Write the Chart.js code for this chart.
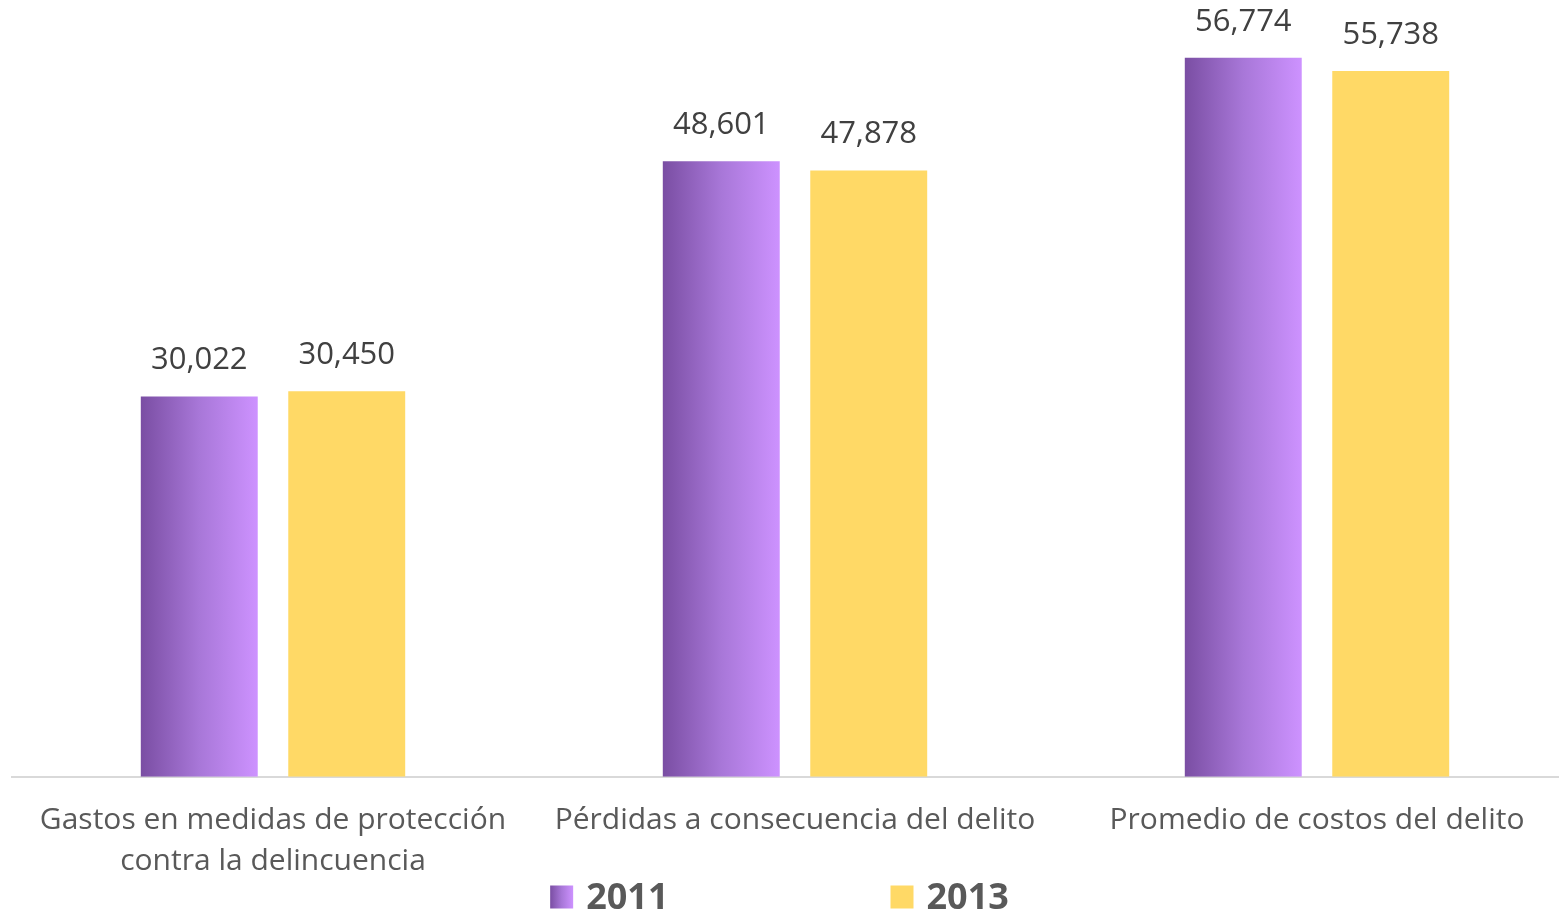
<!DOCTYPE html>
<html>
<head>
<meta charset="utf-8">
<script src="https://cdn.jsdelivr.net/npm/chart.js@4"></script>
<style>
  html, body { margin: 0; padding: 0; background: #fff; overflow: hidden; }
  #wrap { width: 1578px; height: 914px; }
</style>
</head>
<body>
<div id="wrap"><canvas id="chart"></canvas></div>
<script>
// categorías y valores
const categories = [
  ["Gastos en medidas de protección", "contra la delincuencia"],
  "Pérdidas a consecuencia del delito",
  "Promedio de costos del delito"
];
const seriesLabels = ["2011", "2013"];
const values2011 = [30022, 48601, 56774];
const values2013 = [30450, 47878, 55738];

const FONT = "'Open Sans', 'Liberation Sans', sans-serif";
const TEXT = "#595959";

// degradado horizontal de cada barra 2011
function purpleGradient(ctx, x0, x1) {
  const g = ctx.createLinearGradient(x0, 0, x1, 0);
  g.addColorStop(0, "#7a4ea3");
  g.addColorStop(0.5, "#a877d8");
  g.addColorStop(1, "#cd92ff");
  return g;
}

const gradientBars = {
  id: "gradientBars",
  beforeDatasetDraw(chart, args) {
    if (args.index !== 0) return;
    const ctx = chart.ctx;
    args.meta.data.forEach(el => {
      el.options.backgroundColor = purpleGradient(ctx, el.x - el.width / 2, el.x + el.width / 2);
    });
  }
};

// etiquetas de valor encima de cada barra
const valueLabels = {
  id: "valueLabels",
  afterDatasetsDraw(chart) {
    const ctx = chart.ctx;
    ctx.save();
    ctx.font = "31px " + FONT;
    ctx.fillStyle = "#404040";
    ctx.textAlign = "center";
    ctx.textBaseline = "middle";
    chart.data.datasets.forEach((ds, i) => {
      chart.getDatasetMeta(i).data.forEach((el, j) => {
        ctx.fillText(ds.data[j].toLocaleString("en-US"), el.x, el.y - 36);
      });
    });
    ctx.restore();
  }
};

// leyenda inferior (centrada en la ventana visible)
const bottomLegend = {
  id: "bottomLegend",
  afterDraw(chart) {
    const ctx = chart.ctx;
    const box = 23, gapText = 13, gapItems = 222, cy = 898, cx = 779.5;
    ctx.save();
    ctx.font = "bold 36px " + FONT;
    ctx.textBaseline = "middle";
    const widths = chart.data.datasets.map(ds => box + gapText + ctx.measureText(ds.label).width);
    const total = widths.reduce((a, b) => a + b, 0) + gapItems * (widths.length - 1);
    let x = cx - total / 2;
    chart.data.datasets.forEach((ds, i) => {
      ctx.fillStyle = i === 0 ? purpleGradient(ctx, x, x + box) : ds.backgroundColor;
      ctx.fillRect(x, cy - box / 2 - 1, box, box);
      ctx.fillStyle = TEXT;
      ctx.fillText(ds.label, x + box + gapText, cy + 1);
      x += widths[i] + gapItems;
    });
    ctx.restore();
  }
};

new Chart(document.getElementById("chart"), {
  type: "bar",
  data: {
    labels: categories,
    datasets: [
      {
        label: seriesLabels[0],
        data: values2011,
        backgroundColor: () => "#a877d8",
        categoryPercentage: 0.565,
        barPercentage: 0.793
      },
      {
        label: seriesLabels[1],
        data: values2013,
        backgroundColor: "#ffd966",
        categoryPercentage: 0.565,
        barPercentage: 0.793
      }
    ]
  },
  options: {
    responsive: true,
    maintainAspectRatio: false,
    animation: false,
    layout: { padding: { left: 12, right: 0, top: 17, bottom: 9 } },
    plugins: {
      legend: { display: false },
      tooltip: { enabled: false }
    },
    scales: {
      y: { display: false, min: 0, max: 60000 },
      x: {
        grid: { display: false, drawTicks: false },
        border: { display: true, color: "#d9d9d9", width: 2 },
        ticks: {
          color: TEXT,
          font: { family: FONT, size: 30, lineHeight: 1.37 },
          padding: 23,
          maxRotation: 0,
          autoSkip: false
        }
      }
    }
  },
  plugins: [gradientBars, valueLabels, bottomLegend]
});
</script>
</body>
</html>
